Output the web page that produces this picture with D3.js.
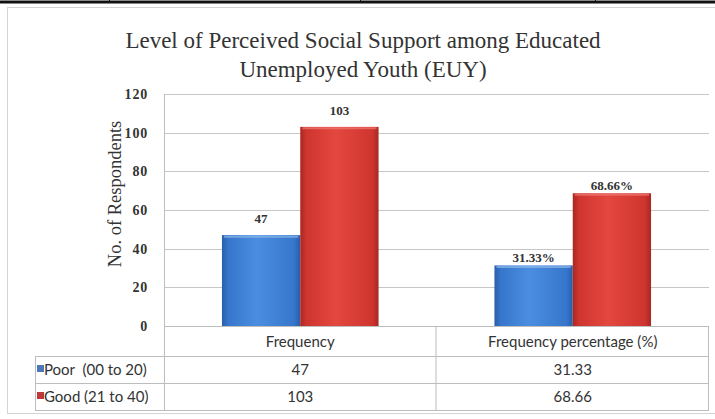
<!DOCTYPE html>
<html>
<head>
<meta charset="utf-8">
<script src="https://cdn.jsdelivr.net/npm/d3@7"></script>
<style>
  body { margin: 0; background: #ffffff; }
  svg { display: block; }
</style>
</head>
<body>
<svg></svg>
<script>
// data
var categories = ['Frequency', 'Frequency percentage (%)']
var seriesNames = ['Poor  (00 to 20)', 'Good (21 to 40)']
var poorValues = [47, 31.33]
var goodValues = [103, 68.66]
var poorLabels = ['47', '31.33%']
var goodLabels = ['103', '68.66%']
var poorTable = ['47', '31.33']
var goodTable = ['103', '68.66']
var yTicks = [0, 20, 40, 60, 80, 100, 120]

var svgWidth = 715, svgHeight = 419
var plotLeft = 164, plotRight = 709, plotTop = 94, plotBottom = 326
var tableLeft = 35, rowLines = [356, 383, 410]

var svg = d3.select('svg')
    .attr('width', svgWidth)
    .attr('height', svgHeight)

var defs = svg.append('defs')
function barGradient(id, light, mid, dark) {
    var g = defs.append('linearGradient').attr('id', id)
        .attr('x1', 0).attr('x2', 1).attr('y1', 0).attr('y2', 0)
    g.append('stop').attr('offset', '0%').attr('stop-color', dark)
    g.append('stop').attr('offset', '8%').attr('stop-color', mid)
    g.append('stop').attr('offset', '45%').attr('stop-color', light)
    g.append('stop').attr('offset', '92%').attr('stop-color', mid)
    g.append('stop').attr('offset', '100%').attr('stop-color', dark)
}
barGradient('gradBlue', '#4b8ee0', '#3676cc', '#2a5ea8')
barGradient('gradRed', '#e3473f', '#cf352f', '#a82823')

var colors = ['url(#gradBlue)', 'url(#gradRed)']
var keyColors = ['#4a78b8', '#c0393a']

// page rule at the very top
svg.append('line')
    .attr('x1', 0).attr('x2', svgWidth).attr('y1', 2).attr('y2', 2)
    .style('stroke', '#111').style('stroke-width', 3)
svg.selectAll('.tick-top')
    .data([109, 360, 595])
    .enter()
    .append('line')
    .attr('x1', function(d) { return d + 0.5 })
    .attr('x2', function(d) { return d + 0.5 })
    .attr('y1', 0).attr('y2', 3)
    .style('stroke', '#111')

// chart border
svg.append('rect')
    .attr('x', 7.5).attr('y', 7.5)
    .attr('width', 720).attr('height', 406)
    .style('fill', '#ffffff')
    .style('stroke', '#d4d4d4')

// title
var title = svg.append('text')
    .attr('text-anchor', 'middle')
    .style('font-family', '"Liberation Serif", "DejaVu Serif", serif')
    .style('font-size', '23px')
    .style('fill', '#333')
title.append('tspan').attr('x', 363).attr('y', 48)
    .text('Level of Perceived Social Support among Educated')
title.append('tspan').attr('x', 363).attr('y', 77)
    .text('Unemployed Youth (EUY)')

// scales
var x0 = d3.scaleBand()
    .domain(categories)
    .range([plotLeft, plotRight])
    .paddingInner(0).paddingOuter(0)

var x1 = d3.scaleBand()
    .domain([0, 1])
    .range([0, x0.bandwidth()])
    .paddingInner(0).paddingOuter(0.74)

var y = d3.scaleLinear()
    .domain([0, 120])
    .range([plotBottom, plotTop])

// gridlines
svg.selectAll('.grid')
    .data(yTicks.slice(1))
    .enter()
    .append('line')
    .attr('x1', plotLeft).attr('x2', plotRight)
    .attr('y1', function(d) { return Math.round(y(d)) + 0.5 })
    .attr('y2', function(d) { return Math.round(y(d)) + 0.5 })
    .style('stroke', '#c6c6c6')
    .style('stroke-width', 1.2)

// y axis tick labels
var yAxis = d3.axisLeft(y).tickValues(yTicks).tickSize(0).tickPadding(16)
var yg = svg.append('g')
    .attr('transform', 'translate(' + plotLeft + ',0)')
    .call(yAxis)
yg.select('.domain').remove()
yg.selectAll('text')
    .style('font-family', '"Liberation Serif", "DejaVu Serif", serif')
    .style('font-weight', 'bold')
    .style('font-size', '14px')
    .style('letter-spacing', '0.8px')
    .style('fill', '#333')

// y axis title
svg.append('text')
    .attr('transform', 'translate(121,' + ((plotTop + plotBottom) / 2 - 16) + ') rotate(-90)')
    .attr('text-anchor', 'middle')
    .style('font-family', '"Liberation Serif", "DejaVu Serif", serif')
    .style('font-size', '18.5px')
    .style('fill', '#333')
    .text('No. of Respondents')

// bars
var series = [poorValues, goodValues]
var barLabels = [poorLabels, goodLabels]
series.forEach(function(vals, s) {
    var g = svg.append('g')
    g.selectAll('rect')
        .data(vals)
        .enter()
        .append('rect')
        .attr('x', function(d, i) { return x0(categories[i]) + x1(s) })
        .attr('y', function(d) { return y(d) })
        .attr('width', x1.bandwidth())
        .attr('height', function(d) { return plotBottom - y(d) })
        .style('fill', colors[s])
    // light top edge
    g.selectAll('line')
        .data(vals)
        .enter()
        .append('line')
        .attr('x1', function(d, i) { return x0(categories[i]) + x1(s) + 2 })
        .attr('x2', function(d, i) { return x0(categories[i]) + x1(s) + x1.bandwidth() - 2 })
        .attr('y1', function(d) { return y(d) + 1.5 })
        .attr('y2', function(d) { return y(d) + 1.5 })
        .style('stroke', s === 0 ? '#8cb8ee' : '#f07a70')
        .style('stroke-width', 2)
        .style('opacity', 0.7)
    g.selectAll('text')
        .data(vals)
        .enter()
        .append('text')
        .attr('x', function(d, i) { return x0(categories[i]) + x1(s) + x1.bandwidth() / 2 })
        .attr('y', function(d, i) { return y(d) - (i === 0 ? 12 : 3) })
        .attr('text-anchor', 'middle')
        .style('font-family', '"Liberation Serif", "DejaVu Serif", serif')
        .style('font-weight', 'bold')
        .style('font-size', '13px')
        .style('fill', '#333')
        .text(function(d, i) { return barLabels[s][i] })
})

// data table
var lineColor = '#bdbdbd'
svg.append('line')
    .attr('x1', plotLeft).attr('x2', plotRight)
    .attr('y1', plotBottom + 0.5).attr('y2', plotBottom + 0.5)
    .style('stroke', lineColor)
svg.selectAll('.rowline')
    .data(rowLines)
    .enter()
    .append('line')
    .attr('x1', tableLeft).attr('x2', plotRight)
    .attr('y1', function(d) { return d + 0.5 })
    .attr('y2', function(d) { return d + 0.5 })
    .style('stroke', lineColor)
svg.append('line')
    .attr('x1', plotLeft + 0.5).attr('x2', plotLeft + 0.5)
    .attr('y1', plotTop).attr('y2', rowLines[2])
    .style('stroke', lineColor)
svg.append('line')
    .attr('x1', tableLeft + 0.5).attr('x2', tableLeft + 0.5)
    .attr('y1', rowLines[0]).attr('y2', rowLines[2])
    .style('stroke', lineColor)
svg.selectAll('.colline')
    .data(categories)
    .enter()
    .append('line')
    .attr('x1', function(d) { return x0(d) + x0.bandwidth() - 0.5 })
    .attr('x2', function(d) { return x0(d) + x0.bandwidth() - 0.5 })
    .attr('y1', plotBottom).attr('y2', rowLines[2])
    .style('stroke', lineColor)

var tableFont = 'Lato, "Open Sans", sans-serif'
svg.selectAll('.head')
    .data(categories)
    .enter()
    .append('text')
    .attr('x', function(d) { return x0(d) + x0.bandwidth() / 2 })
    .attr('y', 347)
    .attr('text-anchor', 'middle')
    .style('font-family', tableFont)
    .style('font-size', '15px')
    .style('fill', '#333')
    .text(function(d) { return d })

var tableRows = [poorTable, goodTable]
tableRows.forEach(function(row, r) {
    var cy = (rowLines[r] + rowLines[r + 1]) / 2 + 5.5
    svg.append('rect')
        .attr('x', 37).attr('y', cy - 10)
        .attr('width', 7).attr('height', 7)
        .style('fill', keyColors[r])
    svg.append('text')
        .attr('x', 44).attr('y', cy)
        .style('font-family', tableFont)
        .style('font-size', '15px')
        .style('fill', '#333')
        .style('white-space', 'pre')
        .text(seriesNames[r])
    svg.selectAll('.cell' + r)
        .data(row)
        .enter()
        .append('text')
        .attr('x', function(d, i) { return x0(categories[i]) + x0.bandwidth() / 2 })
        .attr('y', cy)
        .attr('text-anchor', 'middle')
        .style('font-family', tableFont)
        .style('font-size', '15px')
        .style('fill', '#333')
        .text(function(d) { return d })
})
</script>
</body>
</html>
